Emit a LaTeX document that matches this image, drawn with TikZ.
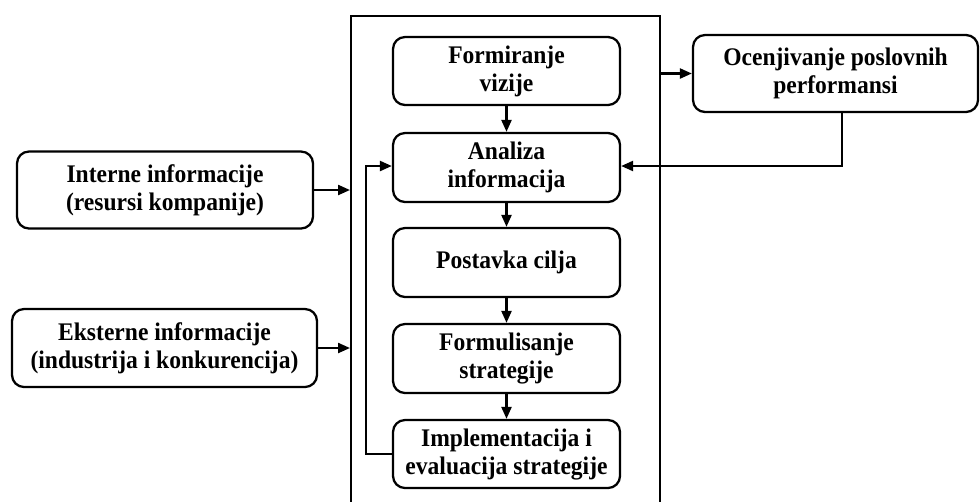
\documentclass[tikz,border=0pt]{standalone}
\usepackage{fontspec}
\setmainfont[FakeStretch=0.93]{Liberation Serif}
\usetikzlibrary{arrows.meta,calc}
\begin{document}
\begin{tikzpicture}[x=0.75pt,y=-0.75pt,
  every node/.style={font=\fontsize{19}{21}\selectfont\bfseries},
  stage/.style={draw,line width=1.7pt,rounded corners=9pt,align=center,inner sep=0pt},
  frame/.style={draw,line width=1.7pt,inner sep=0pt},
  flow/.style={line width=1.7pt,-{Triangle[length=9pt,width=7.5pt]}},
  link/.style={line width=1.7pt}]
\useasboundingbox (0,0) rectangle (980,501);
\clip (0,0) rectangle (980,501);
% outer frame around the process stages
\node[frame,minimum width=309*0.75pt,minimum height=520*0.75pt,anchor=north west] (frame) at (350,15) {};
% process stages
\node[stage,minimum width=227*0.75pt,minimum height=68*0.75pt] (viz) at (506.5,71) {Formiranje\\vizije};
\node[stage,minimum width=227*0.75pt,minimum height=69*0.75pt] (ana) at (506.5,167.5) {Analiza\\informacija};
\node[stage,minimum width=227*0.75pt,minimum height=69*0.75pt] (cilj) at (506.5,262.5) {Postavka cilja};
\node[stage,minimum width=227*0.75pt,minimum height=69*0.75pt] (form) at (506.5,358.5) {Formulisanje\\strategije};
\node[stage,minimum width=227*0.75pt,minimum height=68*0.75pt] (impl) at (506.5,454) {Implementacija i\\evaluacija strategije};
% inputs and performance assessment
\node[stage,minimum width=296*0.75pt,minimum height=77*0.75pt] (int) at (165,190) {Interne informacije\\(resursi kompanije)};
\node[stage,minimum width=305*0.75pt,minimum height=78*0.75pt] (ext) at (164.5,348) {Eksterne informacije\\(industrija i konkurencija)};
\node[stage,minimum width=285*0.75pt,minimum height=77*0.75pt] (ocj) at (835.5,73.5) {Ocenjivanje poslovnih\\performansi};
% connectors
\draw[flow] (viz) -- (ana);
\draw[flow] (ana) -- (cilj);
\draw[flow] (cilj) -- (form);
\draw[flow] (form) -- (impl);
\draw[flow] (int.east) -- (int.east -| frame.west);
\draw[flow] (ext.east) -- (ext.east -| frame.west);
\draw[flow] (ocj.west -| frame.east) -- (ocj.west);
\coordinate (fbR) at (842,166);
\draw[flow] (ocj.south -| fbR) -- (fbR) -- (fbR -| ana.east);
\coordinate (fbL) at (366,166);
\draw[flow] (impl.west) -- (impl.west -| fbL) -- (fbL) -- (fbL -| ana.west);
\end{tikzpicture}
\end{document}
